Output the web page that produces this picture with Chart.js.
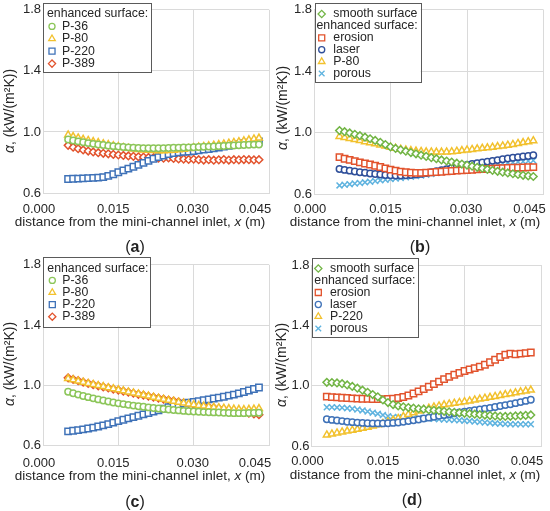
<!DOCTYPE html>
<html>
<head>
<meta charset="utf-8">
<script src="https://cdn.jsdelivr.net/npm/chart.js"></script>
<style>
  html, body { margin: 0; padding: 0; background: #fff; }
  #fig { position: relative; width: 550px; height: 511px; font-family: "Liberation Sans", Arial, sans-serif; }
  #fig canvas { position: absolute; }
  .tag { position: absolute; transform: translate(-50%, -50%); font-size: 16px; color: #222; }
</style>
</head>
<body>
<div id="fig"></div>
<script>
// ---- data ----
const X_ABC = [0.005,0.006,0.007,0.008,0.009,0.010,0.011,0.012,0.013,0.014,0.015,0.016,0.017,0.018,0.019,0.020,0.021,0.022,0.023,0.024,0.025,0.026,0.027,0.028,0.029,0.030,0.031,0.032,0.033,0.034,0.035,0.036,0.037,0.038,0.039,0.040,0.041,0.042,0.043];
const X_D = [0.003,0.004,0.005,0.006,0.007,0.008,0.009,0.010,0.011,0.012,0.013,0.014,0.015,0.016,0.017,0.018,0.019,0.020,0.021,0.022,0.023,0.024,0.025,0.026,0.027,0.028,0.029,0.030,0.031,0.032,0.033,0.034,0.035,0.036,0.037,0.038,0.039,0.040,0.041,0.042,0.043];

const X_TICKS = [0, 0.015, 0.030, 0.045];
const X_TICK_LABELS = ["0.000", "0.015", "0.030", "0.045"];
const Y_TICKS = [0.6, 1.0, 1.4, 1.8];
const Y_TICK_LABELS = ["0.6", "1.0", "1.4", "1.8"];

// (a)
const a_P36  = [0.950,0.944,0.938,0.932,0.927,0.922,0.918,0.914,0.910,0.907,0.904,0.901,0.899,0.897,0.895,0.894,0.893,0.893,0.893,0.894,0.895,0.896,0.897,0.898,0.899,0.900,0.901,0.903,0.904,0.905,0.907,0.908,0.910,0.911,0.913,0.914,0.916,0.917,0.918];
const a_P80  = [0.980,0.970,0.961,0.952,0.944,0.937,0.930,0.923,0.917,0.910,0.904,0.898,0.893,0.889,0.885,0.882,0.880,0.878,0.877,0.877,0.878,0.880,0.883,0.887,0.892,0.897,0.901,0.905,0.909,0.913,0.917,0.921,0.926,0.931,0.936,0.942,0.948,0.954,0.960];
const a_P220 = [0.692,0.693,0.694,0.696,0.697,0.699,0.701,0.704,0.712,0.723,0.736,0.748,0.760,0.772,0.784,0.797,0.810,0.824,0.835,0.846,0.855,0.862,0.866,0.869,0.872,0.875,0.879,0.884,0.888,0.893,0.898,0.904,0.909,0.915,0.920,0.926,0.930,0.933,0.937];
const a_P389 = [0.912,0.900,0.890,0.882,0.875,0.869,0.864,0.860,0.857,0.853,0.849,0.846,0.843,0.840,0.837,0.835,0.833,0.831,0.829,0.828,0.830,0.826,0.823,0.822,0.820,0.821,0.818,0.816,0.818,0.815,0.817,0.819,0.816,0.818,0.817,0.819,0.818,0.817,0.818];

// (b)
const b_smooth  = [1.013,1.006,0.998,0.989,0.980,0.970,0.960,0.949,0.937,0.922,0.907,0.897,0.888,0.879,0.870,0.862,0.853,0.845,0.837,0.830,0.822,0.815,0.808,0.801,0.795,0.788,0.781,0.774,0.767,0.760,0.754,0.748,0.742,0.737,0.732,0.727,0.722,0.718,0.714];
const b_erosion = [0.840,0.830,0.822,0.814,0.806,0.799,0.792,0.784,0.776,0.767,0.759,0.752,0.746,0.742,0.739,0.738,0.738,0.739,0.741,0.743,0.745,0.748,0.750,0.752,0.754,0.756,0.758,0.760,0.762,0.763,0.765,0.767,0.768,0.770,0.771,0.772,0.773,0.774,0.775];
const b_laser   = [0.763,0.757,0.752,0.747,0.742,0.738,0.734,0.730,0.727,0.724,0.722,0.721,0.721,0.722,0.724,0.727,0.731,0.736,0.742,0.748,0.755,0.762,0.769,0.776,0.783,0.789,0.795,0.801,0.806,0.811,0.816,0.821,0.826,0.831,0.836,0.840,0.844,0.848,0.852];
const b_P80     = [0.975,0.968,0.962,0.955,0.948,0.941,0.934,0.927,0.920,0.912,0.905,0.898,0.892,0.887,0.883,0.880,0.877,0.875,0.874,0.873,0.873,0.874,0.876,0.879,0.883,0.887,0.890,0.894,0.898,0.901,0.905,0.909,0.913,0.918,0.923,0.929,0.935,0.941,0.947];
const b_porous  = [0.656,0.660,0.664,0.668,0.672,0.676,0.680,0.685,0.689,0.693,0.697,0.701,0.705,0.709,0.713,0.717,0.721,0.726,0.731,0.736,0.741,0.747,0.753,0.759,0.765,0.771,0.776,0.781,0.785,0.789,0.793,0.797,0.800,0.803,0.806,0.809,0.812,0.815,0.818];

// (c)
const c_P36  = [0.958,0.948,0.939,0.930,0.922,0.914,0.907,0.900,0.893,0.887,0.881,0.876,0.871,0.866,0.862,0.858,0.854,0.850,0.847,0.843,0.840,0.837,0.834,0.831,0.829,0.827,0.825,0.823,0.822,0.821,0.820,0.818,0.817,0.816,0.816,0.816,0.817,0.818,0.819];
const c_P80  = [1.045,1.037,1.029,1.021,1.013,1.006,0.999,0.992,0.985,0.978,0.971,0.964,0.957,0.950,0.943,0.936,0.929,0.922,0.915,0.908,0.901,0.895,0.889,0.883,0.877,0.872,0.867,0.863,0.859,0.855,0.852,0.849,0.846,0.843,0.841,0.840,0.841,0.843,0.846];
const c_P220 = [0.695,0.699,0.703,0.708,0.714,0.720,0.727,0.735,0.743,0.753,0.763,0.772,0.781,0.790,0.799,0.808,0.817,0.826,0.835,0.845,0.855,0.864,0.872,0.879,0.885,0.891,0.896,0.902,0.907,0.913,0.919,0.925,0.932,0.939,0.947,0.956,0.966,0.976,0.986];
const c_P389 = [1.050,1.040,1.031,1.022,1.013,1.005,0.997,0.990,0.983,0.976,0.969,0.962,0.955,0.948,0.941,0.935,0.928,0.922,0.915,0.909,0.903,0.897,0.891,0.885,0.879,0.873,0.867,0.862,0.856,0.851,0.846,0.841,0.836,0.831,0.826,0.821,0.816,0.811,0.806];

// (d)
const d_smooth  = [1.022,1.021,1.018,1.013,1.005,0.995,0.983,0.970,0.956,0.941,0.926,0.905,0.888,0.875,0.866,0.860,0.855,0.851,0.847,0.844,0.840,0.837,0.834,0.830,0.827,0.823,0.820,0.817,0.814,0.811,0.808,0.805,0.802,0.799,0.797,0.796,0.797,0.799,0.801,0.803,0.806];
const d_erosion = [0.927,0.924,0.922,0.920,0.918,0.916,0.914,0.913,0.912,0.911,0.911,0.911,0.912,0.914,0.918,0.925,0.935,0.948,0.962,0.977,0.993,1.010,1.027,1.043,1.058,1.072,1.085,1.097,1.107,1.116,1.126,1.139,1.155,1.172,1.190,1.205,1.212,1.208,1.212,1.216,1.220];
const d_laser   = [0.777,0.773,0.769,0.765,0.761,0.758,0.755,0.753,0.751,0.750,0.750,0.750,0.751,0.753,0.756,0.760,0.765,0.770,0.776,0.782,0.788,0.794,0.800,0.806,0.811,0.817,0.822,0.828,0.833,0.838,0.843,0.848,0.853,0.859,0.865,0.871,0.877,0.884,0.891,0.899,0.907];
const d_P220    = [0.673,0.680,0.687,0.693,0.699,0.705,0.711,0.718,0.725,0.733,0.741,0.750,0.760,0.771,0.783,0.796,0.809,0.821,0.832,0.842,0.851,0.859,0.866,0.873,0.879,0.884,0.889,0.894,0.899,0.905,0.911,0.917,0.923,0.929,0.935,0.941,0.947,0.953,0.959,0.965,0.971];
const d_porous  = [0.857,0.857,0.856,0.854,0.851,0.847,0.842,0.836,0.829,0.821,0.813,0.805,0.798,0.793,0.790,0.788,0.787,0.786,0.785,0.784,0.782,0.780,0.778,0.776,0.774,0.772,0.770,0.768,0.765,0.762,0.759,0.756,0.753,0.750,0.748,0.746,0.745,0.744,0.744,0.744,0.744];

// ---- styling ----
const FONT = '"Liberation Sans", Arial, sans-serif';
const TEXT = "#262626";
const GRID = "#dadada";
const GREEN = "#8cc65a";
const GREEN_S = "#72b545";
const YELLOW = "#f2c12e";
const BLUE = "#3f72b8";
const RED = "#e2532d";
const NAVY = "#2f4f9a";
const SKY = "#5fb3df";

// marker size per point style, so squares/diamonds look as wide as circles
const RADIUS = { circle: 3.2, rect: 4.5, rectRot: 3.8, triangle: 4, crossRot: 4.2 };

const X_TITLE = [["distance from the mini-channel inlet, ", ""], ["x", "italic "], [" (m)", ""]];
const Y_TITLE = [["\u03b1", "italic "], [", (kW/(m\u00b2K))", ""]];

function series(label, xs, ys, color, style) {
  return {
    label,
    data: xs.map((x, i) => ({ x, y: ys[i] })),
    borderColor: color,
    backgroundColor: "#fff",
    pointStyle: style,
    pointRadius: RADIUS[style],
    pointBorderWidth: 1.5,
    showLine: false,
  };
}

const PANELS = [
  {
    tag: "a", left: 0, top: 0, L: 43, R: 3, T: 8, B: 193,
    sets: [
      series("P-36", X_ABC, a_P36, GREEN, "circle"),
      series("P-80", X_ABC, a_P80, YELLOW, "triangle"),
      series("P-220", X_ABC, a_P220, BLUE, "rect"),
      series("P-389", X_ABC, a_P389, RED, "rectRot"),
    ],
    legend: { x: 43, y: 2.7, w: 108, h: 69, order: ["T", 0, 1, 2, 3], y0: 11.3, dy: 12.4, mx: 9, tx: 19, hx: 4 },
    tickY: 209, xTitleY: 222, yTitleX: 10, yTitleY: 111, tagX: 135, tagY: 247,
  },
  {
    tag: "b", left: 275, top: 0, L: 39, R: 6.5, T: 9, B: 194,
    sets: [
      series("smooth surface", X_ABC, b_smooth, GREEN_S, "rectRot"),
      series("erosion", X_ABC, b_erosion, RED, "rect"),
      series("laser", X_ABC, b_laser, NAVY, "circle"),
      series("P-80", X_ABC, b_P80, YELLOW, "triangle"),
      series("porous", X_ABC, b_porous, SKY, "crossRot"),
    ],
    legend: { x: 40, y: 3, w: 105.7, h: 78.7, order: [0, "T", 1, 2, 3, 4], y0: 11, dy: 11.9, mx: 6.7, tx: 18.3, hx: 1.5 },
    tickY: 209, xTitleY: 222, yTitleX: 8, yTitleY: 108, tagX: 145, tagY: 247,
  },
  {
    tag: "c", left: 0, top: 255, L: 43, R: 3, T: 9.5, B: 190.7,
    sets: [
      series("P-36", X_ABC, c_P36, GREEN, "circle"),
      series("P-80", X_ABC, c_P80, YELLOW, "triangle"),
      series("P-220", X_ABC, c_P220, BLUE, "rect"),
      series("P-389", X_ABC, c_P389, RED, "rectRot"),
    ],
    legend: { x: 43.3, y: 1.7, w: 106.7, h: 70, order: ["T", 0, 1, 2, 3], y0: 11.6, dy: 12.1, mx: 9, tx: 19, hx: 4 },
    tickY: 208, xTitleY: 221, yTitleX: 10, yTitleY: 109, tagX: 135, tagY: 247,
  },
  {
    tag: "d", left: 275, top: 255, L: 36.5, R: 9, T: 10, B: 191,
    sets: [
      series("smooth surface", X_D, d_smooth, GREEN_S, "rectRot"),
      series("erosion", X_D, d_erosion, RED, "rect"),
      series("laser", X_D, d_laser, BLUE, "circle"),
      series("P-220", X_D, d_P220, YELLOW, "triangle"),
      series("porous", X_D, d_porous, SKY, "crossRot"),
    ],
    legend: { x: 37.3, y: 3, w: 106, h: 78.7, order: [0, "T", 1, 2, 3, 4], y0: 10.5, dy: 12, mx: 6, tx: 17.7, hx: 2 },
    tickY: 206.7, xTitleY: 220.7, yTitleX: 7, yTitleY: 110, tagX: 137, tagY: 245,
  },
];

const TICK_SHIFT = [-4, -5, -1, -14];

// draw a line of text made of parts with different font styles, centred on cx
function drawParts(ctx, parts, cx, cy, size) {
  let total = 0;
  parts.forEach(p => { ctx.font = p[1] + size + "px " + FONT; total += ctx.measureText(p[0]).width; });
  let x = cx - total / 2;
  ctx.textAlign = "left";
  ctx.textBaseline = "middle";
  parts.forEach(p => {
    ctx.font = p[1] + size + "px " + FONT;
    ctx.fillText(p[0], x, cy);
    x += ctx.measureText(p[0]).width;
  });
}

function marker(ctx, ds, x, y) {
  ctx.strokeStyle = ds.borderColor;
  ctx.fillStyle = "#fff";
  ctx.lineWidth = 1.3;
  const opts = { pointStyle: ds.pointStyle, rotation: 0, radius: RADIUS[ds.pointStyle] * 0.95, borderWidth: 1.3 };
  Chart.helpers.drawPoint(ctx, opts, x, y);
}

const panelText = {
  id: "panelText",
  afterDraw(chart, args, o) {
    const { ctx, scales } = chart;
    const p = o.panel;
    ctx.save();
    ctx.fillStyle = TEXT;
    ctx.font = "13px " + FONT;
    ctx.textAlign = "center";
    ctx.textBaseline = "middle";
    X_TICKS.forEach((v, i) => {
      ctx.fillText(X_TICK_LABELS[i], scales.x.getPixelForValue(v) + TICK_SHIFT[i], p.tickY);
    });
    drawParts(ctx, X_TITLE, 140, p.xTitleY, 13.5);
    ctx.translate(p.yTitleX, p.yTitleY);
    ctx.rotate(-Math.PI / 2);
    drawParts(ctx, Y_TITLE, 0, 0, 14);
    ctx.restore();

    // legend box
    const lg = p.legend;
    ctx.save();
    ctx.fillStyle = "#fff";
    ctx.fillRect(lg.x, lg.y, lg.w, lg.h);
    ctx.strokeStyle = "#5a5a5a";
    ctx.lineWidth = 1;
    ctx.strokeRect(Math.round(lg.x) + 0.5, Math.round(lg.y) + 0.5, Math.round(lg.w), Math.round(lg.h));
    lg.order.forEach((item, r) => {
      const y = lg.y + lg.y0 + r * lg.dy;
      ctx.font = "12.3px " + FONT;
      ctx.textBaseline = "middle";
      ctx.textAlign = "left";
      ctx.fillStyle = TEXT;
      if (item === "T") {
        ctx.fillText("enhanced surface:", lg.x + lg.hx, y);
      } else {
        const ds = chart.data.datasets[item];
        marker(ctx, ds, lg.x + lg.mx, y);
        ctx.fillStyle = TEXT;
        ctx.fillText(ds.label, lg.x + lg.tx, y);
      }
    });
    ctx.restore();
  },
};

const fig = document.getElementById("fig");
PANELS.forEach(p => {
  const cv = document.createElement("canvas");
  cv.width = 275;
  cv.height = 255;
  cv.style.left = p.left + "px";
  cv.style.top = p.top + "px";
  fig.appendChild(cv);

  const tag = document.createElement("div");
  tag.className = "tag";
  tag.style.left = (p.left + p.tagX) + "px";
  tag.style.top = (p.top + p.tagY) + "px";
  tag.innerHTML = "(<b>" + p.tag + "</b>)";
  fig.appendChild(tag);

  new Chart(cv, {
    type: "scatter",
    data: { datasets: p.sets },
    plugins: [panelText],
    options: {
      responsive: false,
      animation: false,
      layout: { padding: { left: 0, right: p.R, top: p.T, bottom: 0 } },
      plugins: {
        legend: { display: false },
        tooltip: { enabled: false },
        panelText: { panel: p },
      },
      scales: {
        x: {
          type: "linear",
          min: 0,
          max: 0.045,
          afterBuildTicks: s => { s.ticks = X_TICKS.map(v => ({ value: v })); },
          afterFit: s => { s.height = 255 - p.B; },
          ticks: { display: false },
          grid: { color: GRID, drawTicks: false },
          border: { color: GRID },
        },
        y: {
          type: "linear",
          min: 0.6,
          max: 1.8,
          afterBuildTicks: s => { s.ticks = Y_TICKS.map(v => ({ value: v })); },
          afterFit: s => { s.width = p.L; },
          ticks: {
            padding: 2,
            color: TEXT,
            font: { family: FONT, size: 13 },
            callback: (v, i) => Y_TICK_LABELS[i],
          },
          grid: { color: GRID, drawTicks: false },
          border: { color: GRID },
        },
      },
    },
  });
});
</script>
</body>
</html>
